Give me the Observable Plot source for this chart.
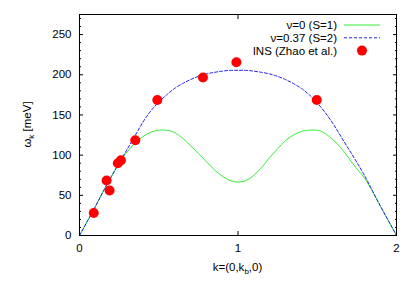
<!DOCTYPE html>
<html>
<head>
<meta charset="utf-8">
<script src="https://cdn.jsdelivr.net/npm/d3@7"></script>
<script src="https://cdn.jsdelivr.net/npm/@observablehq/plot@0.6"></script>
<style>
  body { margin: 0; background: #fff; }
  #chart { position: relative; width: 415px; height: 290px; }
</style>
</head>
<body>
<div id="chart"></div>
<script>
// k along (0,k_b,0)
const kGrid = [0,0.05,0.1,0.15,0.2,0.25,0.3,0.35,0.4,0.45,0.5,0.55,0.6,0.65,0.7,0.75,0.8,0.85,0.9,0.95,1.0,
               1.05,1.1,1.15,1.2,1.25,1.3,1.35,1.4,1.45,1.5,1.55,1.6,1.65,1.7,1.75,1.8,1.85,1.9,1.95,2.0];
// nu=0 (S=1), green solid
const omegaS1 = [0,18,36,55,73,90,104,115,123,128.5,131,131,128,121,112,102,92,82,74,68.5,66.5,
                 68.5,75,85,97,108,118,125,129.5,131,131,127,119,109,96,83,71,54,36,18,0];
// nu=0.37 (S=2), blue dashed
const omegaS2 = [0,18,36,55,73,90,107,124,141,155,166,175,183,189,194,198,201,203,204.5,205.5,205.5,
                 205.5,204.5,203,201,198,194,189,183,175,165,153,139,123,107,91,74,55,36,18,0];
// INS data (Zhao et al.)
const insK = [0.09,0.171,0.19,0.242,0.261,0.352,0.491,0.779,0.99,1.497];
const insW = [28,68.5,56,90,93.5,118.5,168.5,196.5,215.5,168.5];

const yTicks = [0,50,100,150,200,250];
const yMinor = [10,20,30,40,60,70,80,90,110,120,130,140,160,170,180,190,210,220,230,240,260,270];
const xTicks = [0,1,2];

const legendLabels = ["ν=0 (S=1)", "ν=0.37 (S=2)", "INS (Zhao et al.)"];

const curveS1 = kGrid.map((k, i) => ({k, w: omegaS1[i]}));
const curveS2 = kGrid.map((k, i) => ({k, w: omegaS2[i]}));
const ins = insK.map((k, i) => ({k, w: insW[i]}));

const FONT = "Liberation Sans, Arial, Helvetica, sans-serif";
const green = "#33ee33";
const blue = "#2222ee";
const red = "#ff0000";

const W = 415, H = 290, mL = 79, mR = 19, mT = 14, mB = 55;

const plot = Plot.plot({
  width: W,
  height: H,
  marginLeft: mL,
  marginRight: mR,
  marginTop: mT,
  marginBottom: mB,
  style: {fontFamily: FONT, fontSize: "11.5px", color: "#000", background: "#fff"},
  x: {domain: [0, 2]},
  y: {domain: [0, 275]},
  marks: [
    Plot.axisY({anchor: "left", ticks: yTicks, tickSize: -4, tickPadding: 12, label: null, tickFormat: d => d, fontSize: 11.5}),
    Plot.axisY({anchor: "left", ticks: yMinor, tickSize: -2, text: null, label: null}),
    Plot.axisY({anchor: "right", ticks: yTicks, tickSize: -4, text: null, label: null}),
    Plot.axisY({anchor: "right", ticks: yMinor, tickSize: -2, text: null, label: null}),
    Plot.axisX({anchor: "bottom", ticks: xTicks, tickSize: -4, tickPadding: 12, label: null, tickFormat: d => d, fontSize: 11.5}),
    Plot.axisX({anchor: "top", ticks: xTicks, tickSize: -4, text: null, label: null}),
    Plot.line(curveS1, {x: "k", y: "w", stroke: green, strokeWidth: 1, curve: "natural"}),
    Plot.line(curveS2, {x: "k", y: "w", stroke: blue, strokeWidth: 1, strokeDasharray: "3,2", curve: "natural"}),
    Plot.dot(ins, {x: "k", y: "w", r: 5, fill: red, stroke: "none"}),
    Plot.frame({stroke: "#000", strokeWidth: 1})
  ]
});

document.getElementById("chart").appendChild(plot);

// Axis labels and legend (annotations added to the same SVG)
const svg = d3.select(plot);
const ink = "#000";

// y label: ω_k [meV]
const yl = svg.append("text")
  .attr("transform", `translate(31, ${(mT + H - mB) / 2}) rotate(-90)`)
  .attr("text-anchor", "middle")
  .attr("font-family", FONT).attr("font-size", 11.5).attr("fill", ink);
yl.append("tspan").text("ω");
yl.append("tspan").attr("font-size", 8).attr("dy", 3).text("k");
yl.append("tspan").attr("dy", -3).text(" [meV]");

// x label: k=(0,k_b,0)
const xl = svg.append("text")
  .attr("x", mL + (W - mL - mR) / 2).attr("y", 271)
  .attr("text-anchor", "middle")
  .attr("font-family", FONT).attr("font-size", 11.5).attr("fill", ink);
xl.append("tspan").text("k=(0,k");
xl.append("tspan").attr("font-size", 8).attr("dy", 3).text("b");
xl.append("tspan").attr("dy", -3).text(",0)");

// legend
const lg = svg.append("g").attr("font-family", FONT).attr("font-size", 11.5).attr("fill", ink);
const rowY = [25, 37.8, 50.6];
const textRight = 337, s0 = 344, s1 = 380;
legendLabels.forEach((t, i) => {
  lg.append("text").attr("x", textRight).attr("y", rowY[i]).attr("dy", "0.35em")
    .attr("text-anchor", "end").text(t);
});
lg.append("line").attr("x1", s0).attr("x2", s1).attr("y1", rowY[0]).attr("y2", rowY[0])
  .attr("stroke", green).attr("stroke-width", 1);
lg.append("line").attr("x1", s0).attr("x2", s1).attr("y1", rowY[1]).attr("y2", rowY[1])
  .attr("stroke", blue).attr("stroke-width", 1).attr("stroke-dasharray", "3,2");
lg.append("circle").attr("cx", (s0 + s1) / 2).attr("cy", rowY[2]).attr("r", 5).attr("fill", red);
</script>
</body>
</html>
